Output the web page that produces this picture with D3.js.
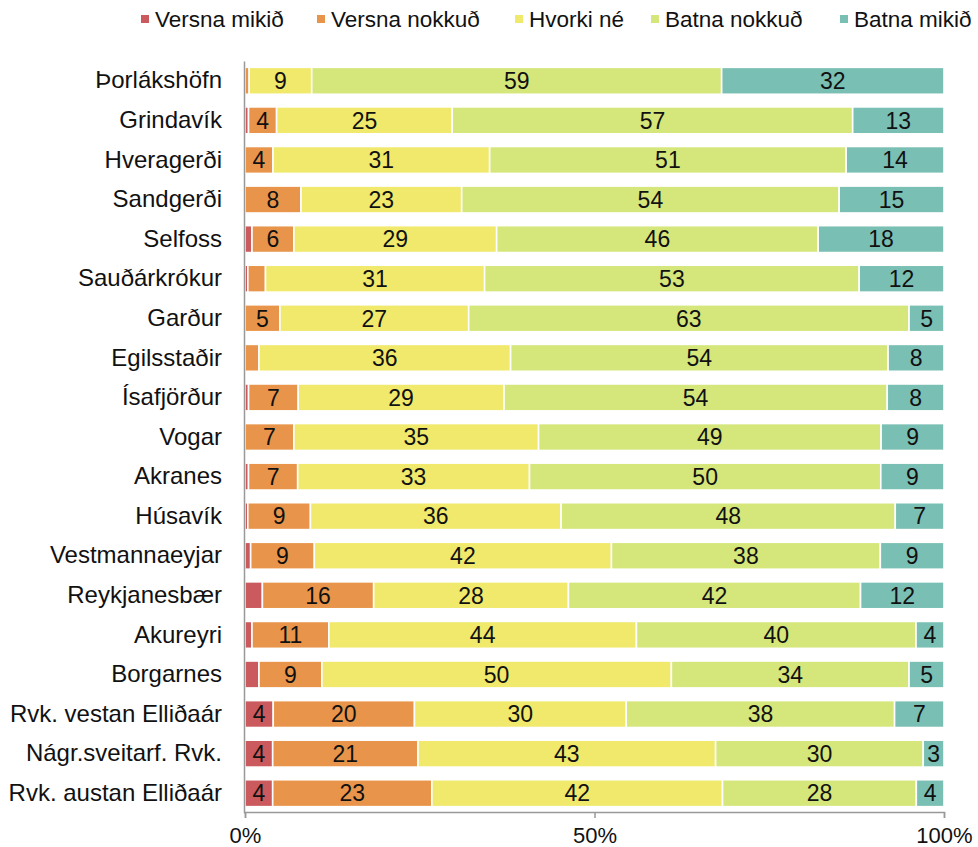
<!DOCTYPE html>
<html>
<head>
<meta charset="utf-8">
<script src="https://cdn.jsdelivr.net/npm/d3@7"></script>
<style>
  body { margin: 0; background: #fff; }
  svg { display: block; font-family: "Liberation Sans", Arial, sans-serif; }
</style>
</head>
<body>
<svg id="chart" width="978" height="847"></svg>
<script>
const categories = ["Þorlákshöfn", "Grindavík", "Hveragerði", "Sandgerði", "Selfoss", "Sauðárkrókur", "Garður", "Egilsstaðir", "Ísafjörður", "Vogar", "Akranes", "Húsavík", "Vestmannaeyjar", "Reykjanesbær", "Akureyri", "Borgarnes", "Rvk. vestan Elliðaár", "Nágr.sveitarf. Rvk.", "Rvk. austan Elliðaár"];
const seriesNames = ["Versna mikið", "Versna nokkuð", "Hvorki né", "Batna nokkuð", "Batna mikið"];
const versnaMikid   = [0,   0.5, 0,  0,  1,  0.4, 0,  0,  0.5, 0,  0.5, 0.4, 0.8, 2.5, 1,  2,  4,  4,  4];
const versnaNokkud  = [0.6, 4,   4,  8,  6,  2.5, 5,  2,  7,   7,  7,   9,   9,   16,  11, 9,  20, 21, 23];
const hvorkiNe      = [9,   25,  31, 23, 29, 31,  27, 36, 29,  35, 33,  36,  42,  28,  44, 50, 30, 43, 42];
const batnaNokkud   = [59,  57,  51, 54, 46, 53,  63, 54, 54,  49, 50,  48,  38,  42,  40, 34, 38, 30, 28];
const batnaMikid    = [32,  13,  14, 15, 18, 12,  5,  8,  8,   9,  9,   7,   9,   12,  4,  5,  7,  3,  4];
const tickLabels = ["0%", "50%", "100%"];
const colors = ["#cb5a5e", "#e8954b", "#f0e96b", "#d5e67b", "#7abfb4"];

const seriesValues = [versnaMikid, versnaNokkud, hvorkiNe, batnaNokkud, batnaMikid];
const rows = categories.map((c, i) => {
  const o = { cat: c };
  seriesNames.forEach((s, j) => o[s] = seriesValues[j][i]);
  return o;
});

const FS = 23;
const svg = d3.select("#chart");
const x = d3.scaleLinear().domain([0, 1]).range([245, 944]);
const y = d3.scaleBand().domain(categories).range([61, 813]).paddingInner(0.32).paddingOuter(0.16);

const stack = d3.stack().keys(seriesNames).offset(d3.stackOffsetExpand);
const stacked = stack(rows);

const g = svg.append("g");
stacked.forEach((layer, j) => {
  const lg = g.append("g");
  layer.forEach((d, i) => {
    const val = seriesValues[j][i];
    if (val <= 0) return;
    const x0 = x(d[0]), x1 = x(d[1]);
    lg.append("rect")
      .attr("x", x0).attr("y", y(categories[i]))
      .attr("width", Math.max(0, x1 - x0)).attr("height", y.bandwidth())
      .attr("fill", colors[j])
      .attr("stroke", "#fff").attr("stroke-width", 1.6);
    if (val >= 3) {
      lg.append("text")
        .attr("x", (x0 + x1) / 2)
        .attr("y", y(categories[i]) + y.bandwidth() / 2)
        .attr("dy", "0.36em")
        .attr("text-anchor", "middle")
        .attr("font-size", FS)
        .attr("fill", "#111")
        .text(Math.round(val));
    }
  });
});

// Y axis
const yAxis = svg.append("g").attr("transform", "translate(244,0)")
  .call(d3.axisLeft(y).tickSize(0).tickPadding(22));
yAxis.select(".domain").attr("stroke", "#999").attr("stroke-width", 1.5);
yAxis.selectAll("text").attr("font-size", 24).attr("fill", "#111")
  .attr("font-family", "'Liberation Sans', Arial, sans-serif");

// X axis
const xAxis = svg.append("g").attr("transform", "translate(0,812)")
  .call(d3.axisBottom(x).tickValues([0, 0.5, 1]).tickFormat((d, i) => tickLabels[i]).tickSize(6).tickSizeOuter(6).tickPadding(9));
xAxis.select(".domain").attr("stroke", "#999").attr("stroke-width", 1.5);
xAxis.selectAll(".tick line").attr("stroke", "#999").attr("stroke-width", 1.5);
xAxis.selectAll("text").attr("font-size", 22).attr("fill", "#111")
  .attr("font-family", "'Liberation Sans', Arial, sans-serif");

// Legend
const legendX = [141, 317, 515, 651, 840];
const legend = svg.append("g").attr("transform", "translate(0,19)");
seriesNames.forEach((s, j) => {
  const it = legend.append("g").attr("transform", `translate(${legendX[j]},0)`);
  it.append("rect").attr("x", 0).attr("y", -4).attr("width", 8).attr("height", 8).attr("fill", colors[j]);
  it.append("text").attr("x", 14).attr("dy", "0.36em").attr("font-size", 22.5).attr("fill", "#111").text(s);
});
</script>
</body>
</html>
